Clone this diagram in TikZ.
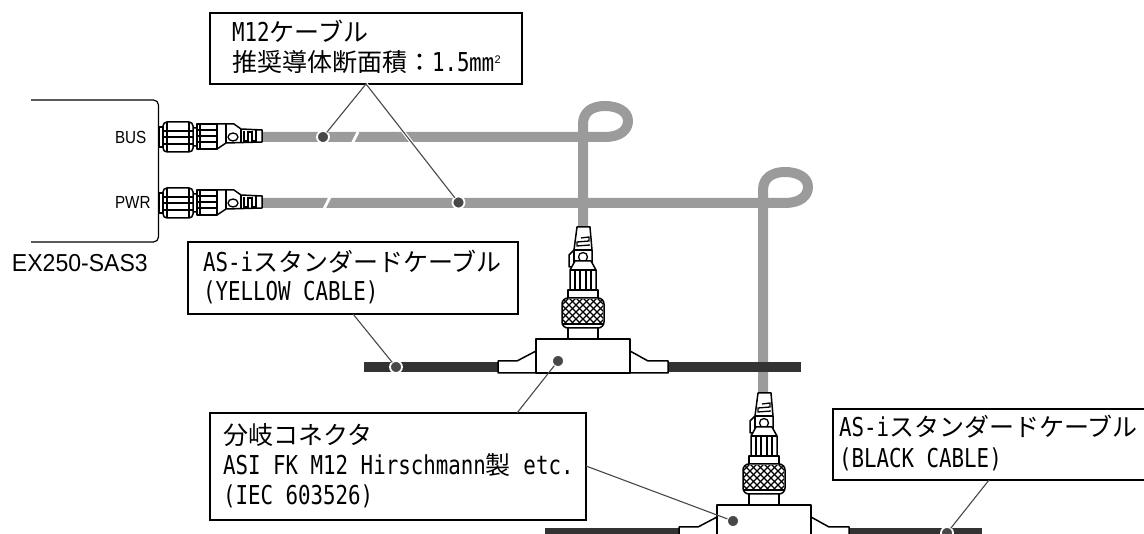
\documentclass[tikz,border=0pt]{standalone}
\usepackage{fontspec}
\setmainfont{Liberation Sans}
\newfontfamily\jpf{Noto Sans CJK JP}
\newfontfamily\mof[FakeStretch=0.80]{DejaVu Sans Mono}
\newfontfamily\arnf[FakeStretch=0.87]{Liberation Sans}
\newfontfamily\argf[FakeStretch=0.94]{Liberation Sans}
\newcommand{\jp}[1]{{\fontsize{25}{30}\selectfont\jpf #1}}
\newcommand{\mo}[1]{{\fontsize{26}{30}\selectfont\mof #1}}
\definecolor{cablegray}{HTML}{9B9B9B}
\definecolor{cabledark}{HTML}{333333}
\definecolor{leadgray}{HTML}{484848}
\usetikzlibrary{calc}
\tikzset{
  x=1pt,y=-1pt,
  cablepath/.style={draw=cablegray,line width=10pt,line join=round},
  gapline/.style={draw=white,line width=2.8pt},
  part/.style={draw=black,line width=1.5pt,fill=white,line join=round},
  thin part/.style={draw=black,line width=1.3pt},
  boxnode/.style={draw=black,line width=1.2pt,fill=white,rectangle,inner sep=0pt,outer sep=0pt,anchor=north west},
  txt/.style={anchor=base west,inner sep=0pt,outer sep=0pt},
  leader/.style={draw=leadgray,line width=1.1pt},
  halo/.style={draw=white,line width=3.4pt},
  dotmark/.style={circle,fill=leadgray,draw=white,line width=1.8pt,minimum size=12pt,inner sep=0pt,outer sep=0pt},
  mconn/.pic={
    \draw[part] (1,-10) rectangle (5,10);
    \draw[part,rounded corners=1.5pt] (34,-9) rectangle (41,9);
    \draw[part] (59,-13) -- (76,-13) -- (83,-8) -- (104,-7) -- (104,5) -- (68,6) -- (59,12) -- cycle;
    \draw[part] (68,-13) -- (68,6);
    \draw[thin part] (83,-8) -- (83,6);
    \draw[thin part] (75,0) ellipse (5pt and 4pt);
    \draw[thin part] (86,-6) -- (86,4) -- (90,4) -- (90,-5) -- (94,-5) -- (94,4) -- (98,4) -- (98,-7);
    \draw[part] (39,-13) rectangle (59,12);
    \foreach \yy in {-7,-1,5} \draw[thin part] (39,\yy) -- (59,\yy);
    \draw[thin part] (42,-13) -- (42,12);
    \draw[part,rounded corners=4pt] (5,-15) rectangle (35,15);
    \draw[thin part] (9,-15) -- (9,15) (31,-15) -- (31,15);
    \foreach \yy in {-6,0,7} \draw[thin part] (5,\yy) -- (35,\yy);
  },
  tjoint/.pic={
    \fill[cabledark] (-219,23) rectangle (218,33);
    \draw[part] (-85,22) -- (-66,22) -- (-47,12) -- (-47,34) -- (-85,34) -- cycle;
    \draw[part] (47,12) -- (65,22) -- (85,22) -- (85,34) -- (47,34) -- cycle;
    \draw[part] (-47,0) rectangle (47,34);
    \draw[part] (-15,-12) rectangle (15,0);
    \draw[part] (-6,-112) -- (7,-112) -- (9,-89) -- (9,-72) -- (-9,-72) -- (-14,-72) -- (-14,-84) -- (-9,-89) -- cycle;
    \draw[thin part] (-9,-89) -- (9,-89) (-9,-89) -- (-9,-72);
    \draw[thin part] (-2,-101) -- (6,-102) -- (6,-98) -- (-6,-97) -- (-6,-93) -- (7,-94);
    \draw[thin part] (0,-82) circle (4.5pt);
    \draw[part] (-8,-78) -- (8,-78) -- (13,-69) -- (13,-49) -- (-13,-49) -- (-13,-69) -- cycle;
    \draw[thin part] (-13,-69) -- (13,-69);
    \foreach \xx in {-8,-3,3,8} \draw[thin part] (\xx,-69) -- (\xx,-49);
    \draw[part] (-15,-49) rectangle (15,-41);
    \draw[part,rounded corners=6pt] (-21,-41) rectangle (21,-11);
    \begin{scope}
      \clip (-20,-39) rectangle (20,-15);
      \foreach \kk in {-70,-63,...,70} {
        \draw[black,line width=1.2pt] (\kk-15,-42) -- (\kk+15,-12);
        \draw[black,line width=1.2pt] (\kk+15,-42) -- (\kk-15,-12);
      }
    \end{scope}
    \draw[thin part] (-20,-15) -- (20,-15);
  }
}
\begin{document}
\begin{tikzpicture}
\clip (0,0) rectangle (1144,534);
\fill[white] (0,0) rectangle (1144,534);
% device
\coordinate (devtl) at (31,100);
\coordinate (devbl) at (31,242);
\draw[black,line width=1.2pt,rounded corners=5pt] (devtl) -- (158.5,100) -- (158.5,242) -- (devbl);
\node[txt] (bus) at (115,144) {\fontsize{17.5}{20}\selectfont\arnf BUS};
\node[txt] (pwr) at (115,209) {\fontsize{17.5}{20}\selectfont\arnf PWR};
\node[txt] (devname) at (12,272) {\fontsize{24.5}{28}\selectfont\argf EX250-SAS3};
% cables
\draw[cablepath] (255,137) -- (605,137) .. controls (620,137) and (628,130) .. (628,121) .. controls (628,111) and (617,106) .. (605,106) .. controls (592,106) and (583,112) .. (583,124) -- (583,232);
\draw[cablepath] (255,203) -- (785,203) .. controls (800,203) and (808,196) .. (808,187) .. controls (808,177) and (797,172) .. (785,172) .. controls (772,172) and (763,178) .. (763,190) -- (763,398);
\draw[gapline] (352.5,143) -- (358,132);
\draw[gapline] (324,209) -- (330,197);
% connectors
\pic at (158,137) {mconn};
\pic at (158,203) {mconn};
\pic at (583,339) {tjoint};
\pic at (764,505) {tjoint};
% dots
\node[dotmark] (d1) at (323,137) {};
\node[dotmark] (d2) at (458.5,202.5) {};
\node[dotmark] (d3) at (396,367) {};
\node[dotmark] (d4) at (558,361) {};
\node[dotmark] (d5) at (733,521) {};
\node[dotmark] (d6) at (947,533) {};
% boxes
\node[boxnode,minimum width=312pt,minimum height=71pt] (m12) at (210,13) {};
\node[boxnode,minimum width=330pt,minimum height=72pt] (ybox) at (188,242) {};
\node[boxnode,minimum width=376pt,minimum height=107pt] (mbox) at (210,413) {};
\node[boxnode,minimum width=330pt,minimum height=71pt] (bbox) at (833,409) {};
% leader start points
\coordinate (ys) at (353,314);
\coordinate (mt) at (517,413);
\coordinate (mr) at (586,466);
\coordinate (bs) at (989,480);
% leaders
\draw[halo] (m12.south) -- (d2);
\draw[leader] (m12.south) -- (d1);
\draw[leader] (m12.south) -- (d2);
\draw[leader] (ys) -- (d3);
\draw[leader] (mt) -- (d4);
\draw[leader] (mr) -- (d5);
\draw[leader] (bs) -- (d6);
% text
\node[txt] (t1) at (232,42) {\mo{M12}\jp{ケーブル}};
\node[txt] (t2) at (232,72) {\jp{推奨導体断面積：}\mo{1.5}\jp{㎜}\raisebox{8pt}{\fontsize{11}{12}\selectfont 2}};
\node[txt] (t3) at (203,272) {\mo{AS-i}\jp{スタンダードケーブル}};
\node[txt] (t4) at (203,301) {\mo{(YELLOW CABLE)}};
\node[txt] (t5) at (223,445) {\jp{分岐コネクタ}};
\node[txt] (t6) at (223,475) {\mo{ASI FK M12 Hirschmann}\jp{製}\mo{ etc.}};
\node[txt] (t7) at (223,505) {\mo{(IEC 603526)}};
\node[txt] (t8) at (839,437) {\mo{AS-i}\jp{スタンダードケーブル}};
\node[txt] (t9) at (839,468) {\mo{(BLACK CABLE)}};
\end{tikzpicture}
\end{document}
